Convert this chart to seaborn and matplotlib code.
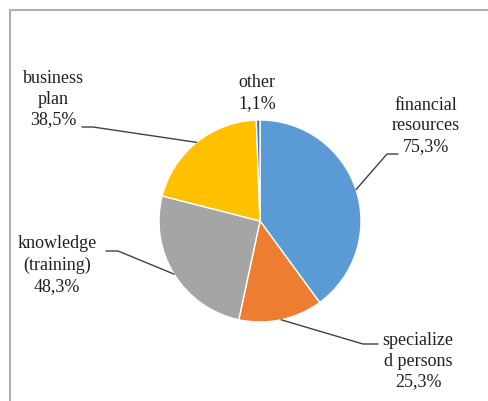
import numpy as np
import matplotlib
matplotlib.use("Agg")
import matplotlib.pyplot as plt
import seaborn as sns
from matplotlib.patches import Rectangle

# Data
labels = ["financial\nresources", "specialize\nd persons", "knowledge\n(training)",
          "business\nplan", "other"]
values = [75.3, 25.3, 48.3, 38.5, 1.1]
colors = ["#5B9BD5", "#ED7D31", "#A5A5A5", "#FFC000", "#4472C4"]

sns.set_theme(style="white")
plt.rcParams['font.family'] = ['Liberation Serif', 'DejaVu Serif']

W, H = 489, 401
fig = plt.figure(figsize=(W / 100, H / 100), dpi=100)
ax = fig.add_axes([0, 0, 1, 1])

# pie placed in pixel units (y measured from bottom)
cx, cy, r = 260, H - 221, 101
wedges, _ = ax.pie(
    values,
    colors=sns.color_palette(colors),
    startangle=90,
    counterclock=False,
    center=(cx, cy),
    radius=r,
    wedgeprops=dict(edgecolor="white", linewidth=1),
    frame=True,
)
ax.set_xlim(0, W)
ax.set_ylim(0, H)
ax.set_aspect("equal")
ax.axis("off")

# label block centres, elbow and end of leader lines (pixels from top)
text_pos = [(426, 126), (418, 361), (57, 265), (53, 99), (257, 93)]
elbows = [[(387, 154), (398, 154)],
          [(363, 344), (378, 344)],
          [(118, 251), (106, 251)],
          [(93, 127), (82, 127)],
          None]

for w, lab, val, (tx, ty), elb in zip(wedges, labels, values, text_pos, elbows):
    mid = np.deg2rad((w.theta1 + w.theta2) / 2)
    ex, ey = cx + r * np.cos(mid), cy + r * np.sin(mid)
    txt = f"{lab}\n{val:.1f}%".replace(".", ",")
    ax.text(tx, H - ty, txt, ha="center", va="center", fontsize=13,
            color="#1F1F1F", linespacing=1.3)
    if elb is not None:
        xs = [ex] + [p[0] for p in elb]
        ys = [ey] + [H - p[1] for p in elb]
        ax.plot(xs, ys, color="#404040", linewidth=1)

# chart frame (only left and top visible)
ax.add_patch(Rectangle((10, -50), 600, H - 10 + 50, fill=False,
                       edgecolor="#B0B0B0", linewidth=1.5, clip_on=False))

fig.savefig("out.png", dpi=100)
